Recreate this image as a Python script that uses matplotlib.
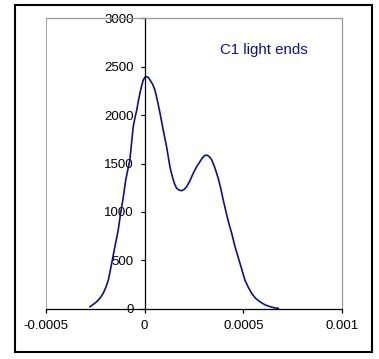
import matplotlib
matplotlib.use("Agg")
import matplotlib.pyplot as plt
from matplotlib.patches import Rectangle

# values
x_vals = [-0.000277, -0.000260, -0.000243, -0.000226, -0.000210, -0.000197,
          -0.000184, -0.000167, -0.000151, -0.000134, -0.000122, -0.000108,
          -0.000096, -0.000086, -0.000075, -0.000066, -0.000058, -0.000049,
          -0.000040, -0.000032, -0.000024, -0.000015, -0.000007, 0.000001,
          0.000010, 0.000018, 0.000027, 0.000040, 0.000052, 0.000065,
          0.000078, 0.000094, 0.000111, 0.000128, 0.000137, 0.000145,
          0.000153, 0.000162, 0.000174, 0.000187, 0.000200, 0.000213,
          0.000230, 0.000246, 0.000263, 0.000280, 0.000293, 0.000306,
          0.000318, 0.000329, 0.000340, 0.000356, 0.000373, 0.000386,
          0.000398, 0.000416, 0.000428, 0.000441, 0.000458, 0.000483,
          0.000508, 0.000525, 0.000542, 0.000562, 0.000584, 0.000610,
          0.000635, 0.000656, 0.000677]
y_vals = [21, 45, 72, 110, 159, 220,
          296, 469, 640, 813, 985, 1157,
          1330, 1430, 1536, 1720, 1880, 1975,
          2053, 2145, 2225, 2305, 2363, 2392,
          2397, 2390, 2363, 2320, 2259, 2145,
          2018, 1846, 1674, 1467, 1390, 1330,
          1282, 1244, 1226, 1219, 1232, 1260,
          1325, 1399, 1465, 1519, 1560, 1585,
          1584, 1568, 1536, 1455, 1345, 1240,
          1123, 968, 870, 780, 640, 469,
          296, 222, 159, 108, 72, 40,
          21, 10, 4]
x_ticks = [-0.0005, 0, 0.0005, 0.001]
x_tick_labels = ['-0.0005', '0', '0.0005', '0.001']
y_ticks = [0, 500, 1000, 1500, 2000, 2500, 3000]
label_text = 'C1 light ends'

plt.rcParams['font.family'] = ['Liberation Sans', 'DejaVu Sans']

fig = plt.figure(figsize=(3.79, 3.59), dpi=100)
ax = fig.add_axes([46 / 379, 1 - 308.7 / 359, 296 / 379, 290.4 / 359])

# outer chart border
fig.patches.append(Rectangle((15 / 379, 1 - 352 / 359), 356.5 / 379, 347 / 359,
                             transform=fig.transFigure, fill=False,
                             edgecolor='black', linewidth=1.5))

#draw the curve
ax.plot(x_vals, y_vals, color='#10108c', linewidth=1.2)

ax.set_xlim(-0.0005, 0.001)
ax.set_ylim(0, 3000)

# axes cross at zero
ax.spines['left'].set_position(('data', 0))
ax.spines['left'].set_color('black')
ax.spines['bottom'].set_color('black')
ax.spines['top'].set_color('#999999')
ax.spines['right'].set_color('#999999')
for s in ax.spines.values():
    s.set_linewidth(0.9)
ax.axvline(-0.0005, color='#999999', linewidth=1.2)

ax.set_xticks(x_ticks)
ax.set_xticklabels(x_tick_labels)
ax.set_yticks(y_ticks)
ax.tick_params(axis='both', direction='out', length=3, width=0.9,
               labelsize=9.5, colors='black')
ax.tick_params(axis='x', pad=5)
ax.tick_params(axis='y', pad=5)

ax.text(0.000605, 2673, label_text, color='#10108c', fontsize=10.8,
        ha='center', va='center')

fig.savefig('out.png', dpi=100)
